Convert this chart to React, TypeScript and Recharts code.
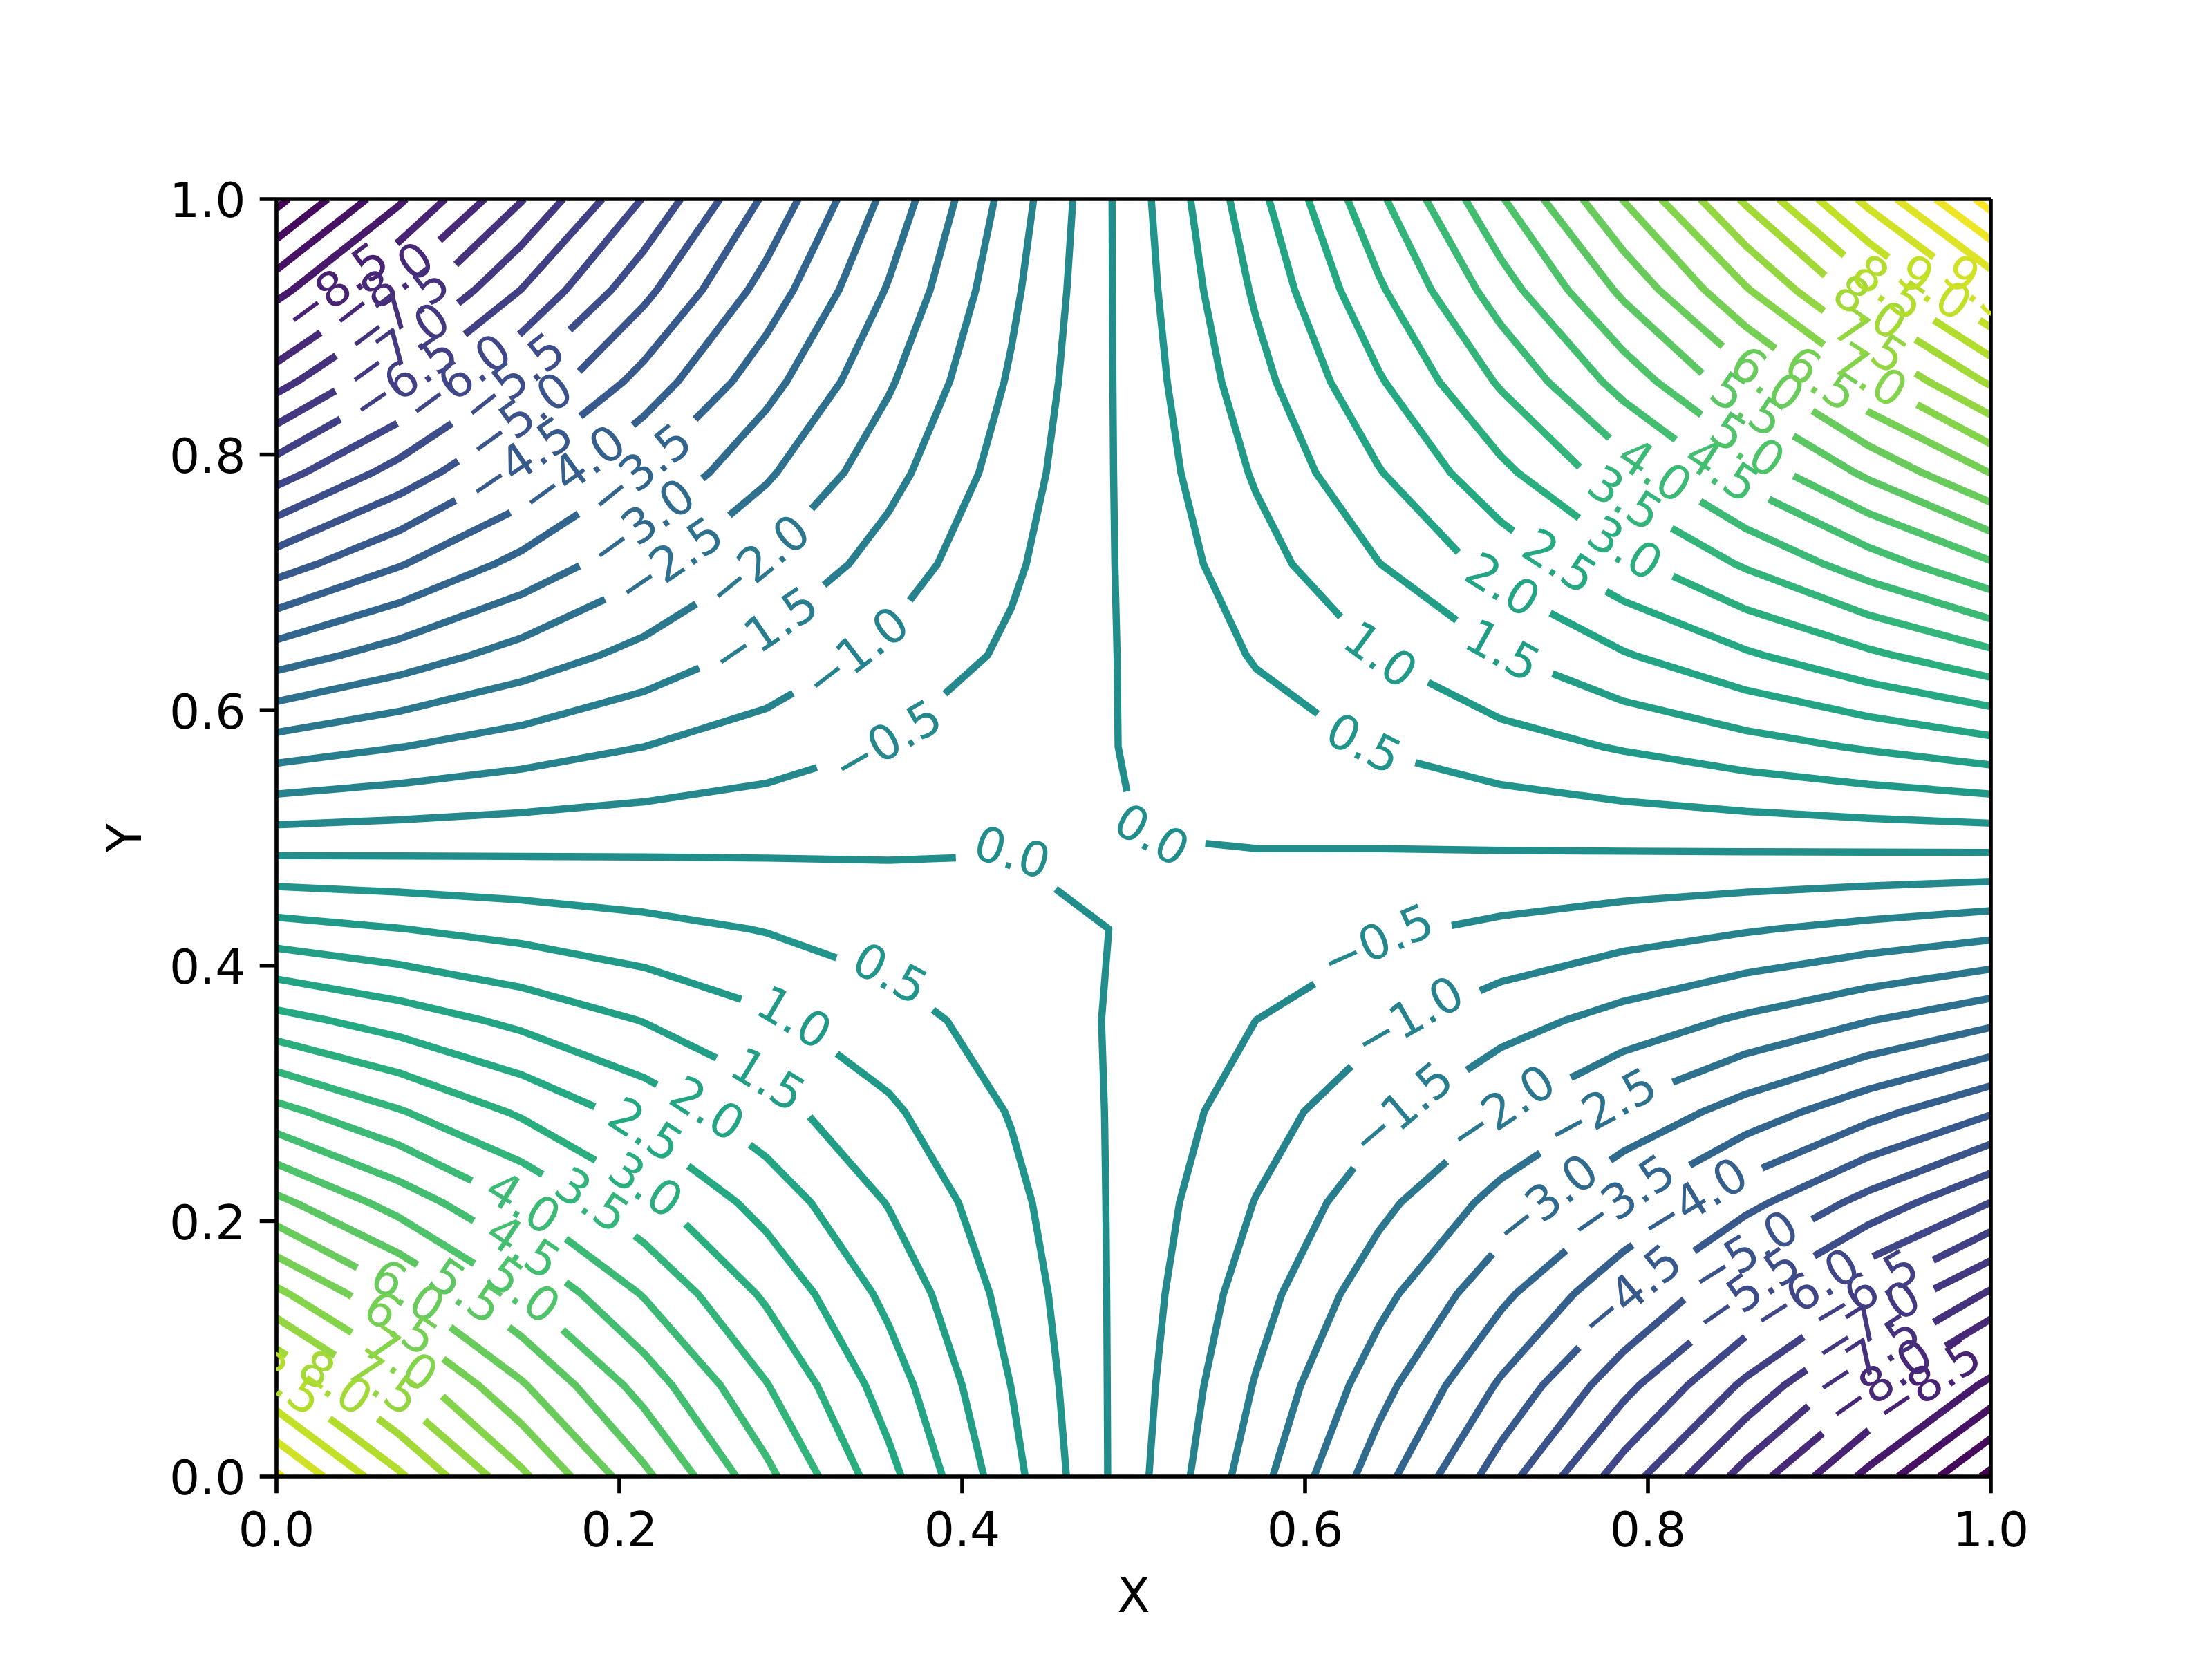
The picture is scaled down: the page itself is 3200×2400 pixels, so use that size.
import React from 'react';
import { ComposedChart, Line, Scatter, XAxis, YAxis, ReferenceLine } from 'recharts';

// ---------------- data ----------------
const xGrid = [0, 0.0714, 0.1429, 0.2143, 0.2857, 0.3571, 0.4286, 0.5, 0.5714, 0.6429, 0.7143, 0.7857, 0.8571, 0.9286, 1];
const yGrid = [0, 0.0714, 0.1429, 0.2143, 0.2857, 0.3571, 0.4286, 0.5, 0.5714, 0.6429, 0.7143, 0.7857, 0.8571, 0.9286, 1];
// zGrid[j][i] : value at (xGrid[i], yGrid[j])
const zGrid = [
  [10.07, 8.586, 7.103, 5.619, 4.136, 2.652, 1.169, -0.315, -1.799, -3.282, -4.766, -6.249, -7.700, -9.140, -10.62],
  [8.59, 7.324, 6.058, 4.792, 3.526, 2.259, 0.993, -0.273, -1.539, -2.805, -4.071, -5.337, -6.603, -7.870, -9.136],
  [7.11, 6.061, 5.013, 3.964, 2.915, 1.867, 0.818, -0.231, -1.279, -2.328, -3.377, -4.425, -5.474, -6.523, -7.571],
  [5.63, 4.799, 3.968, 3.136, 2.305, 1.474, 0.643, -0.189, -1.020, -1.851, -2.682, -3.513, -4.345, -5.176, -6.007],
  [4.15, 3.536, 2.923, 2.309, 1.695, 1.081, 0.467, -0.146, -0.760, -1.374, -1.988, -2.602, -3.215, -3.829, -4.443],
  [2.67, 2.274, 1.877, 1.481, 1.085, 0.688, 0.292, -0.104, -0.501, -0.897, -1.293, -1.690, -2.086, -2.482, -2.879],
  [1.19, 1.011, 0.832, 0.653, 0.475, 0.296, 0.240, -0.061, -0.241, -0.420, -0.599, -0.778, -0.956, -1.135, -1.314],
  [-0.29, -0.251, -0.213, -0.174, -0.136, -0.097, -0.059, -0.005, 0.032, 0.057, 0.096, 0.134, 0.173, 0.211, 0.250],
  [-1.77, -1.514, -1.258, -1.002, -0.746, -0.490, -0.234, 0.034, 0.278, 0.534, 0.790, 1.046, 1.302, 1.558, 1.814],
  [-3.25, -2.777, -2.303, -1.830, -1.356, -0.883, -0.409, 0.064, 0.538, 1.011, 1.485, 1.958, 2.432, 2.905, 3.379],
  [-4.73, -4.039, -3.348, -2.657, -1.966, -1.275, -0.585, 0.106, 0.797, 1.488, 2.179, 2.870, 3.561, 4.252, 4.943],
  [-6.21, -5.302, -4.393, -3.485, -2.577, -1.668, -0.760, 0.149, 1.057, 1.965, 2.874, 3.782, 4.690, 5.599, 6.507],
  [-7.69, -6.564, -5.438, -4.313, -3.187, -2.061, -0.935, 0.191, 1.317, 2.442, 3.568, 4.694, 5.820, 6.946, 8.072],
  [-9.17, -7.827, -6.484, -5.140, -3.797, -2.454, -1.110, 0.233, 1.576, 2.919, 4.263, 5.606, 6.949, 8.293, 9.636],
  [-10.65, -9.089, -7.529, -5.968, -4.407, -2.846, -1.286, 0.275, 1.836, 3.397, 4.957, 6.518, 8.079, 9.639, 11.20],
];
const levels = [
  -10.5, -10, -9.5, -9, -8.5, -8, -7.5, -7, -6.5, -6, -5.5, -5, -4.5, -4, -3.5, -3, -2.5, -2, -1.5, -1, -0.5,
  0, 0.5, 1, 1.5, 2, 2.5, 3, 3.5, 4, 4.5, 5, 5.5, 6, 6.5, 7, 7.5, 8, 8.5, 9, 9.5, 10, 10.5, 11,
];
const xTicks = [0, 0.2, 0.4, 0.6, 0.8, 1];
const yTicks = [0, 0.2, 0.4, 0.6, 0.8, 1];

// ---------------- layout / style ----------------
const W = 3200, H = 2400;
const PL = 400, PR = 2880, PT = 288, PB = 2136;
const PW = PR - PL, PH = PB - PT;
const FS = 69.44;
const LINE_W = 10.42;
const SPINE = 5.56;
const TICK = 24.3;
const PAD = 24.3;
const SPACING = 25;
const FONT = "'DejaVu Sans', sans-serif";
const VIRIDIS = ['#440154', '#482475', '#414487', '#355f8d', '#2a788e', '#21918c', '#22a884', '#44bf70', '#7ad151', '#bddf26', '#fde725'];

function hex2rgb(h: string) {
  return [parseInt(h.slice(1, 3), 16), parseInt(h.slice(3, 5), 16), parseInt(h.slice(5, 7), 16)];
}
function viridis(t: number) {
  const n = VIRIDIS.length - 1;
  const f = Math.min(Math.max(t, 0), 1) * n;
  const k = Math.min(Math.floor(f), n - 1);
  const u = f - k;
  const a = hex2rgb(VIRIDIS[k]), b = hex2rgb(VIRIDIS[k + 1]);
  const c = a.map((v, i) => Math.round(v + (b[i] - v) * u));
  return `rgb(${c[0]},${c[1]},${c[2]})`;
}
function fmt(v: number) {
  return (v < 0 ? '\u2212' : '') + Math.abs(v).toFixed(1);
}
function textWidth(s: string) {
  let w = 0;
  for (const ch of s) w += ch === '.' ? 0.3179 : ch === '\u2212' ? 0.8379 : 0.6362;
  return w * FS;
}

type P = { x: number; y: number };

// marching squares, oriented with higher values on the left
function traceLevel(level: number): P[][] {
  const nx = xGrid.length, ny = yGrid.length;
  const pts = new Map<string, P>();
  const next = new Map<string, string>();
  const endKeys = new Set<string>();
  for (let j = 0; j < ny - 1; j++) {
    for (let i = 0; i < nx - 1; i++) {
      const cx = [xGrid[i], xGrid[i + 1], xGrid[i + 1], xGrid[i]];
      const cy = [yGrid[j], yGrid[j], yGrid[j + 1], yGrid[j + 1]];
      const cz = [zGrid[j][i], zGrid[j][i + 1], zGrid[j + 1][i + 1], zGrid[j + 1][i]];
      const keys = [`h${i},${j}`, `v${i + 1},${j}`, `h${i},${j + 1}`, `v${i},${j}`];
      const up = cz.map((v) => v > level);
      const st: number[] = [], en: number[] = [];
      for (let k = 0; k < 4; k++) {
        const a = up[k], b = up[(k + 1) % 4];
        if (a && !b) st.push(k);
        else if (!a && b) en.push(k);
      }
      if (!st.length) continue;
      const ensure = (k: number) => {
        const key = keys[k];
        if (!pts.has(key)) {
          const k1 = (k + 1) % 4;
          const t = (level - cz[k]) / (cz[k1] - cz[k]);
          pts.set(key, { x: cx[k] + t * (cx[k1] - cx[k]), y: cy[k] + t * (cy[k1] - cy[k]) });
        }
        return key;
      };
      const pairs: [number, number][] = [];
      if (st.length === 1) pairs.push([st[0], en[0]]);
      else {
        const mid = (cz[0] + cz[1] + cz[2] + cz[3]) / 4;
        const midUp = mid > level;
        for (const s of st) pairs.push([s, midUp ? (s + 1) % 4 : (s + 3) % 4]);
      }
      for (const [s, e] of pairs) {
        const sk = ensure(s), ek = ensure(e);
        next.set(sk, ek);
        endKeys.add(ek);
      }
    }
  }
  const paths: P[][] = [];
  const follow = (head: string) => {
    const list = [head];
    let cur = head;
    while (next.has(cur)) {
      const nk = next.get(cur)!;
      next.delete(cur);
      list.push(nk);
      cur = nk;
      if (cur === head) break;
    }
    return list.map((k) => pts.get(k)!);
  };
  for (const k of Array.from(next.keys())) if (!endKeys.has(k) && next.has(k)) paths.push(follow(k));
  for (const k of Array.from(next.keys())) if (next.has(k)) paths.push(follow(k));
  return paths;
}

function interp(t: number, xp: number[], fp: number[]) {
  const n = xp.length;
  if (t <= xp[0]) return fp[0];
  if (t >= xp[n - 1]) return fp[n - 1];
  for (let k = 0; k < n - 1; k++) {
    if (t >= xp[k] && t <= xp[k + 1]) {
      const d = xp[k + 1] - xp[k];
      const u = d === 0 ? 0 : (t - xp[k]) / d;
      return fp[k] + u * (fp[k + 1] - fp[k]);
    }
  }
  return fp[n - 1];
}

type Series = { key: string; color: string; data: P[] };
type Lbl = { x: number; y: number; text: string; rot: number; color: string; id: string };

function buildContours() {
  const series: Series[] = [];
  const labels: Lbl[] = [];
  const lmin = Math.min(...levels), lmax = Math.max(...levels);
  levels.forEach((lvl, li) => {
    const color = viridis((lvl - lmin) / (lmax - lmin));
    const text = fmt(lvl);
    const lw = textWidth(text);
    traceLevel(lvl).forEach((path, pi) => {
      const key = `c${li}-${pi}`;
      const sx = path.map((p) => PL + p.x * PW);
      const sy = path.map((p) => PB - p.y * PH);
      const ptpX = Math.max(...sx) - Math.min(...sx);
      const ptpY = Math.max(...sy) - Math.min(...sy);
      const n = path.length;
      const printable = n > 10 * lw || ptpX > 1.2 * lw || ptpY > 1.2 * lw;
      if (!printable || n < 2) {
        series.push({ key, color, data: path });
        return;
      }
      const idx = Math.floor(n / 2);
      const cpl = [0];
      for (let k = 1; k < n; k++) cpl.push(cpl[k - 1] + Math.hypot(sx[k] - sx[k - 1], sy[k] - sy[k - 1]));
      const off = cpl[idx];
      const c = cpl.map((v) => v - off);
      const sx0 = interp(-lw / 2, c, sx), sx1 = interp(lw / 2, c, sx);
      const sy0 = interp(-lw / 2, c, sy), sy1 = interp(lw / 2, c, sy);
      let ang = (Math.atan2(-(sy1 - sy0), sx1 - sx0) * 180) / Math.PI;
      ang = (((ang + 90) % 180) + 180) % 180 - 90;
      labels.push({ x: path[idx].x, y: path[idx].y, text, rot: -ang, color, id: key });
      const t0 = -lw / 2 - SPACING, t1 = lw / 2 + SPACING;
      const fi = (t: number) => {
        if (t < c[0] || t > c[n - 1]) return -1;
        return interp(t, c, c.map((_, k) => k));
      };
      const f0 = fi(t0), f1 = fi(t1);
      const px = path.map((p) => p.x), py = path.map((p) => p.y);
      if (f0 !== -1) {
        const i0 = Math.floor(f0);
        series.push({ key: key + 'a', color, data: [...path.slice(0, i0 + 1), { x: interp(t0, c, px), y: interp(t0, c, py) }] });
      }
      if (f1 !== -1) {
        const i1 = Math.ceil(f1);
        series.push({ key: key + 'b', color, data: [{ x: interp(t1, c, px), y: interp(t1, c, py) }, ...path.slice(i1)] });
      }
    });
  });
  return { series, labels };
}

const { series, labels } = buildContours();

const XTick = (props: any) => {
  const { x, payload } = props;
  return (
    <text x={x} y={PB + TICK + PAD + 0.76 * FS} textAnchor="middle" fontFamily={FONT} fontSize={FS} fill="#000">
      {Number(payload.value).toFixed(1)}
    </text>
  );
};
const YTick = (props: any) => {
  const { y, payload } = props;
  return (
    <text x={PL - TICK - PAD + 4} y={y + 0.38 * FS} textAnchor="end" fontFamily={FONT} fontSize={FS} fill="#000">
      {Number(payload.value).toFixed(1)}
    </text>
  );
};

const LabelShape = (props: any) => {
  const { cx, cy } = props;
  const d: Lbl = props.payload ?? props;
  if (cx == null || cy == null) return null;
  const cid = `clip-${d.id}`;
  return (
    <g>
      <defs>
        <clipPath id={cid}>
          <rect x={PL} y={PT} width={PW} height={PH} />
        </clipPath>
      </defs>
      <g clipPath={`url(#${cid})`}>
        <text
          x={cx}
          y={cy}
          dy={0.276 * FS}
          transform={`rotate(${d.rot} ${cx} ${cy})`}
          textAnchor="middle"
          fontFamily={FONT}
          fontSize={FS}
          fill={d.color}
        >
          {d.text}
        </text>
      </g>
    </g>
  );
};

export default function App() {
  return (
    <div style={{ position: 'absolute', left: 0, top: 0, width: W, height: H, background: '#fff' }}>
      <ComposedChart width={W} height={H} margin={{ top: PT, right: W - PR, bottom: H - PB - 200, left: PL - 200 }}>
        <XAxis
          type="number"
          dataKey="x"
          domain={[0, 1]}
          ticks={xTicks}
          allowDataOverflow
          interval={0}
          height={200}
          tickSize={TICK}
          tickLine={{ stroke: '#000', strokeWidth: SPINE }}
          axisLine={{ stroke: '#000', strokeWidth: SPINE }}
          tick={<XTick />}
        />
        <YAxis
          type="number"
          domain={[0, 1]}
          ticks={yTicks}
          allowDataOverflow
          interval={0}
          width={200}
          tickSize={TICK}
          tickLine={{ stroke: '#000', strokeWidth: SPINE }}
          axisLine={{ stroke: '#000', strokeWidth: SPINE }}
          tick={<YTick />}
        />
        {series.map((s) => (
          <Line
            key={s.key}
            data={s.data}
            dataKey="y"
            type="linear"
            stroke={s.color}
            strokeWidth={LINE_W}
            strokeLinejoin="round"
            strokeLinecap="butt"
            dot={false}
            activeDot={false}
            isAnimationActive={false}
            legendType="none"
          />
        ))}
        <ReferenceLine y={1} stroke="#000" strokeWidth={SPINE} />
        <ReferenceLine x={1} stroke="#000" strokeWidth={SPINE} />
        <Scatter data={labels} dataKey="y" shape={<LabelShape />} isAnimationActive={false} legendType="none" />
      </ComposedChart>
      <svg width={W} height={H} style={{ position: 'absolute', left: 0, top: 0, pointerEvents: 'none' }}>
        <text x={(PL + PR) / 2} y={PB + TICK + PAD + 0.968 * FS + 27.8 + 0.76 * FS} textAnchor="middle" fontFamily={FONT} fontSize={FS} fill="#000">
          X
        </text>
        <text
          x={204}
          y={(PT + PB) / 2}
          transform={`rotate(-90 204 ${(PT + PB) / 2})`}
          textAnchor="middle"
          fontFamily={FONT}
          fontSize={FS}
          fill="#000"
        >
          Y
        </text>
      </svg>
    </div>
  );
}
